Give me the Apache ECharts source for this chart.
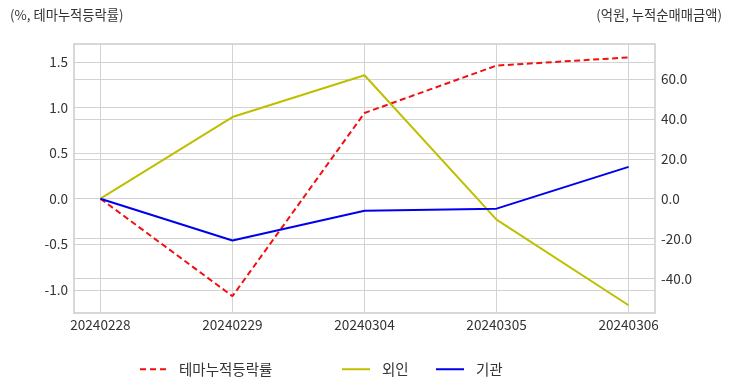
<!DOCTYPE html>
<html><head><meta charset="utf-8">
<script src="https://cdn.jsdelivr.net/npm/echarts@6/dist/echarts.min.js"></script>
<style>html,body{margin:0;padding:0;background:#fff}#c{width:732px;height:392px}</style>
</head><body><div id="c"></div>
<script>
var categories = ['20240228','20240229','20240304','20240305','20240306'];
var themeReturn = [0.0, -1.07, 0.94, 1.46, 1.55];
var foreign = [0.0, 41, 62, -10.5, -53.5];
var institution = [0.0, -21, -6, -5, 16];
var leftTicks = [-1.0, -0.5, 0.0, 0.5, 1.0, 1.5];
var rightTicks = [-40, -20, 0, 20, 40, 60];
var xTicks = [0,1,2,3,4];

var FONT = 'Noto Sans CJK KR';
function pairs(arr){ return arr.map(function(v,i){ return [i,v]; }); }
var chart = echarts.init(document.getElementById('c'));
var grid = '#d3d3d3';
var dashIcon = 'path://M0,0h6v2h-6z M10,0h6v2h-6z M20,0h6v2h-6z';
var solidIcon = 'path://M0,0h28v2h-28z';
function lg(name, left, icon){
  return {data:[{name:name, icon:icon}], left:left, top:362, padding:0, itemWidth:28, itemHeight:2,
    textStyle:{fontSize:14.5, color:'#333', padding:[0,0,0,7]}};
}
chart.setOption({
  animation:false,
  textStyle:{fontFamily:FONT},
  title:[
    {text:'(%, 테마누적등락률)', left:10, top:8, padding:0, textStyle:{fontSize:13.3, fontWeight:'normal', color:'#333', fontFamily:FONT}},
    {text:'(억원, 누적순매매금액)', right:10, top:8, padding:0, textStyle:{fontSize:13.3, fontWeight:'normal', color:'#333', fontFamily:FONT}}
  ],
  grid:{left:74, right:77, top:44, bottom:79, show:true, borderColor:'#cccccc', borderWidth:1.5},
  legend:[
    lg('테마누적등락률', 140, dashIcon),
    lg('외인', 342, solidIcon),
    lg('기관', 436, solidIcon)
  ],
  xAxis:{type:'value', min:-0.2, max:4.2,
    axisLine:{show:false},
    axisTick:{show:false, customValues:xTicks},
    axisLabel:{customValues:xTicks, formatter:function(v){return categories[Math.round(v)];}, fontSize:13.6, color:'#333', margin:5},
    splitLine:{show:true, lineStyle:{color:grid, width:1}}
  },
  yAxis:[
    {type:'value', min:-1.255, max:1.697, position:'left',
      axisLine:{show:false}, axisTick:{show:false, customValues:leftTicks},
      axisLabel:{customValues:leftTicks, formatter:function(v){return v.toFixed(1);}, fontSize:13.6, color:'#333', margin:6},
      splitLine:{show:true, lineStyle:{color:grid, width:1}}
    },
    {type:'value', min:-57.4, max:77.7, position:'right',
      axisLine:{show:false}, axisTick:{show:false, customValues:rightTicks},
      axisLabel:{customValues:rightTicks, formatter:function(v){return v.toFixed(1);}, fontSize:13.6, color:'#333', margin:6},
      splitLine:{show:true, lineStyle:{color:grid, width:1}}
    }
  ],
  series:[
    {name:'테마누적등락률', type:'line', yAxisIndex:0, data:pairs(themeReturn), showSymbol:false, symbol:'none',
      itemStyle:{color:'#f01010'}, lineStyle:{color:'#f01010', width:2, type:[6,3.5]}},
    {name:'외인', type:'line', yAxisIndex:1, data:pairs(foreign), showSymbol:false, symbol:'none',
      itemStyle:{color:'#bfbf00'}, lineStyle:{color:'#bfbf00', width:2}},
    {name:'기관', type:'line', yAxisIndex:1, data:pairs(institution), showSymbol:false, symbol:'none',
      itemStyle:{color:'#0000ee'}, lineStyle:{color:'#0000ee', width:2}}
  ]
});
</script></body></html>
